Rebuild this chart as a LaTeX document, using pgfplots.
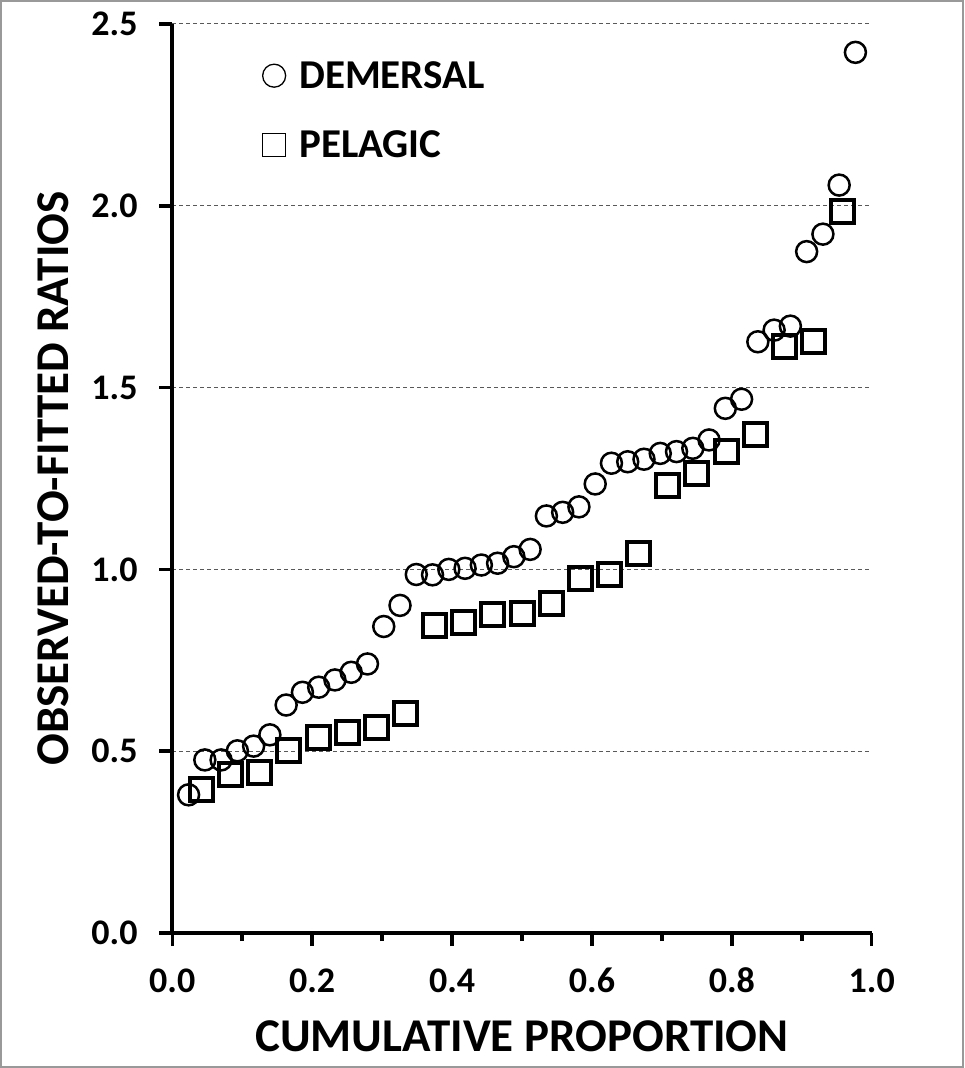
\documentclass[border=0pt]{standalone}
\usepackage{fontspec}
\setmainfont{Carlito}
\usepackage{pgfplots}
\pgfplotsset{compat=1.18}
\begin{document}
\begin{tikzpicture}
\useasboundingbox (0,0) rectangle (964pt,1068pt);
\draw[black!40, line width=2pt] (1pt,1pt) rectangle (963pt,1067pt);
\begin{axis}[
  at={(172.3pt,135pt)}, anchor=south west,
  scale only axis, width=699.4pt, height=909pt,
  xmin=0, xmax=1, ymin=0, ymax=2.5,
  axis x line*=bottom, axis y line*=left,
  axis line style={line width=4pt, black},
  xtick={0,0.2,0.4,0.6,0.8,1},
  minor xtick={0.1,0.3,0.5,0.7,0.9},
  ytick={0,0.5,1,1.5,2,2.5},
  tick align=outside,
  major tick length=13pt, minor tick length=8pt,
  every tick/.style={black, line width=3.5pt},
  ymajorgrids,
  major grid style={black!65, line width=1pt, dash pattern=on 4pt off 3pt},
  /pgf/number format/assume math mode=true,
  xticklabel style={/pgf/number format/.cd, fixed, fixed zerofill, precision=1, /tikz/.cd,
    font=\bfseries\fontsize{36}{40}\selectfont, anchor=base, inner sep=0pt, yshift=-46pt},
  yticklabel style={/pgf/number format/.cd, fixed, fixed zerofill, precision=1, /tikz/.cd,
    font=\bfseries\fontsize{36}{40}\selectfont, anchor=east, inner sep=0pt, xshift=-21.5pt},
  xlabel={CUMULATIVE PROPORTION},
  ylabel={OBSERVED-TO-FITTED RATIOS},
  xlabel style={at={([yshift=-118pt]axis description cs:0.5,0)}, anchor=base,
    font=\bfseries\fontsize{47}{52}\selectfont, inner sep=0pt},
  ylabel style={at={([xshift=-103.5pt]axis description cs:0,0.5)}, anchor=base,
    font=\bfseries\fontsize{47}{52}\selectfont, inner sep=0pt},
  legend style={at={(axis description cs:0,1)}, anchor=north west,
    xshift=89.7pt, yshift=-37.5pt, draw=none, fill=none,
    font=\bfseries\fontsize{41}{48}\selectfont,
    inner sep=0pt, outer sep=0pt, row sep=41pt, column sep=13pt,
    nodes={inner sep=0pt}},
  legend cell align=left,
]
\addplot[only marks, mark=o, mark size=10.5pt, mark options={black, line width=2.5pt},
  legend image code/.code={\draw[black, line width=1.3pt] (11.5pt,0pt) circle (11.5pt);}]
coordinates {
(0.02326,0.380) (0.04651,0.476) (0.06977,0.476) (0.09302,0.501) (0.11628,0.514)
(0.13953,0.545) (0.16279,0.627) (0.18605,0.662) (0.20930,0.676) (0.23256,0.696)
(0.25581,0.717) (0.27907,0.740) (0.30233,0.843) (0.32558,0.901) (0.34884,0.986)
(0.37209,0.985) (0.39535,1.000) (0.41860,1.003) (0.44186,1.012) (0.46512,1.017)
(0.48837,1.035) (0.51163,1.055) (0.53488,1.147) (0.55814,1.157) (0.58140,1.172)
(0.60465,1.235) (0.62791,1.292) (0.65116,1.296) (0.67442,1.303) (0.69767,1.319)
(0.72093,1.324) (0.74419,1.333) (0.76744,1.356) (0.79070,1.443) (0.81395,1.468)
(0.83721,1.626) (0.86047,1.658) (0.88372,1.669) (0.90698,1.874) (0.93023,1.922)
(0.95349,2.057) (0.97674,2.422)
};
\addlegendentry{DEMERSAL}
\addplot[only marks, mark=square, mark size=11.5pt, mark options={black, line width=4pt},
  legend image code/.code={\draw[black, line width=1.3pt] (0pt,-11.5pt) rectangle (23pt,11.5pt);}]
coordinates {
(0.04167,0.395) (0.08333,0.436) (0.12500,0.441) (0.16667,0.501) (0.20833,0.537)
(0.25000,0.551) (0.29167,0.565) (0.33333,0.604) (0.37500,0.845) (0.41667,0.854)
(0.45833,0.875) (0.50000,0.879) (0.54167,0.907) (0.58333,0.976) (0.62500,0.985)
(0.66667,1.044) (0.70833,1.230) (0.75000,1.265) (0.79167,1.323) (0.83333,1.372)
(0.87500,1.613) (0.91667,1.626) (0.95833,1.984)
};
\addlegendentry{PELAGIC}
\end{axis}
\end{tikzpicture}
\end{document}
